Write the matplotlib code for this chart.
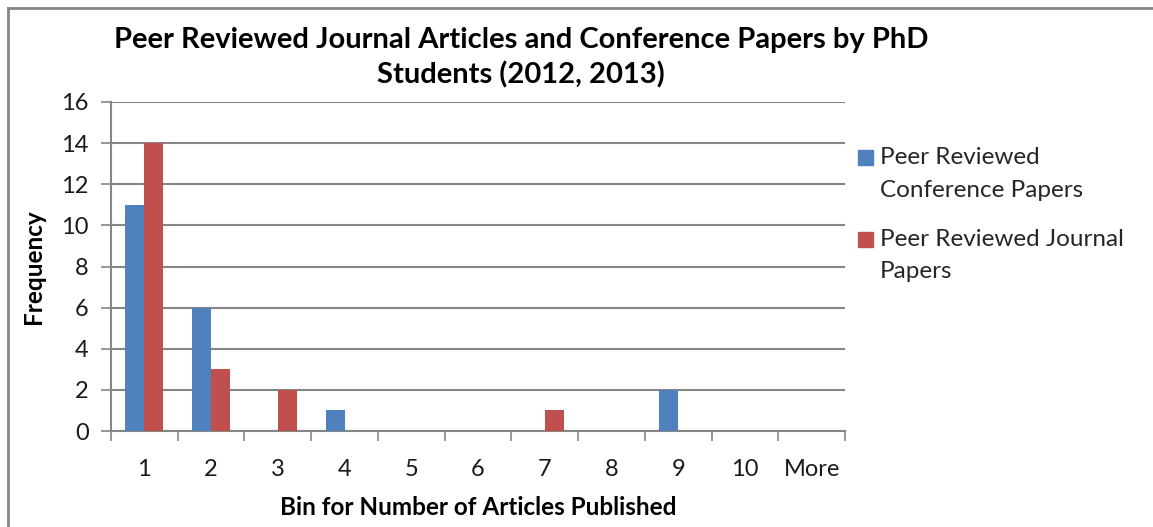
import matplotlib
matplotlib.use("Agg")
import matplotlib.pyplot as plt
import numpy as np
from matplotlib.patches import Rectangle
from matplotlib.lines import Line2D

bins = ["1", "2", "3", "4", "5", "6", "7", "8", "9", "10", "More"]
conference = [11, 6, 0, 1, 0, 0, 0, 0, 2, 0, 0]
journal = [14, 3, 2, 0, 0, 0, 1, 0, 0, 0, 0]
series_names = ["Peer Reviewed\nConference Papers", "Peer Reviewed Journal\nPapers"]
series_colors = ["#4F81BD", "#C0504D"]

plt.rcParams['font.family'] = ['Lato', 'DejaVu Sans']
grid_col = "#868686"
txt_col = "#1a1a1a"

fig = plt.figure(figsize=(11.53, 5.27), dpi=100)
ax = fig.add_axes([111/1153, 1-431/527, (845-111)/1153, (431-102)/527])

x = np.arange(len(bins)) + 0.5
w = 0.285
ax.bar(x - w/2, conference, w, color=series_colors[0], zorder=3)
ax.bar(x + w/2, journal, w, color=series_colors[1], zorder=3)

ax.set_xlim(0, len(bins))
ax.set_ylim(0, 16)
ax.set_yticks(range(0, 17, 2))
ax.yaxis.grid(True, color=grid_col, linewidth=1.5, zorder=0)
ax.set_axisbelow(True)

# category boundary ticks, labels in centres
ax.set_xticks(np.arange(len(bins) + 1))
ax.set_xticklabels([])
ax.set_xticks(x, minor=True)
ax.set_xticklabels(bins, minor=True)
ax.tick_params(axis='x', which='major', length=7, width=1.2, color=grid_col)
ax.tick_params(axis='x', which='minor', length=0, pad=20, labelsize=17, labelcolor=txt_col)
ax.tick_params(axis='y', length=7, width=1.2, color=grid_col, pad=9, labelsize=17, labelcolor=txt_col)

for s in ['top', 'right']:
    ax.spines[s].set_visible(False)
for s in ['left', 'bottom']:
    ax.spines[s].set_color(grid_col)
    ax.spines[s].set_linewidth(1.5)

ax.set_xlabel("Bin for Number of Articles Published", fontsize=17.5, fontweight='bold', labelpad=12)
ax.set_ylabel("Frequency", fontsize=17.5, fontweight='bold', labelpad=12)

fig.text(521/1153, 1-40/527, "Peer Reviewed Journal Articles and Conference Papers by PhD",
         ha='center', va='center', fontsize=21, fontweight='bold')
fig.text(521/1153, 1-75/527, "Students (2012, 2013)",
         ha='center', va='center', fontsize=21, fontweight='bold')

# legend drawn by hand so the marker sits on the first text line
for i, (name, col) in enumerate(zip(series_names, series_colors)):
    ytop = 158 + i * 82
    fig.patches.append(Rectangle((858/1153, 1-(ytop+7)/527), 15/1153, 15/527,
                                 transform=fig.transFigure, color=col))
    for j, line in enumerate(name.split("\n")):
        fig.text(880/1153, 1-(ytop + 32*j)/527, line, ha='left', va='center',
                 fontsize=17.5, color="#262626")

# chart frame (top and left edges visible)
fig.lines.append(Line2D([8/1153, 1], [1-8/527, 1-8/527], transform=fig.transFigure,
                        color=grid_col, linewidth=2))
fig.lines.append(Line2D([8/1153, 8/1153], [0, 1-8/527], transform=fig.transFigure,
                        color=grid_col, linewidth=2))

fig.savefig("out.png", dpi=100)
